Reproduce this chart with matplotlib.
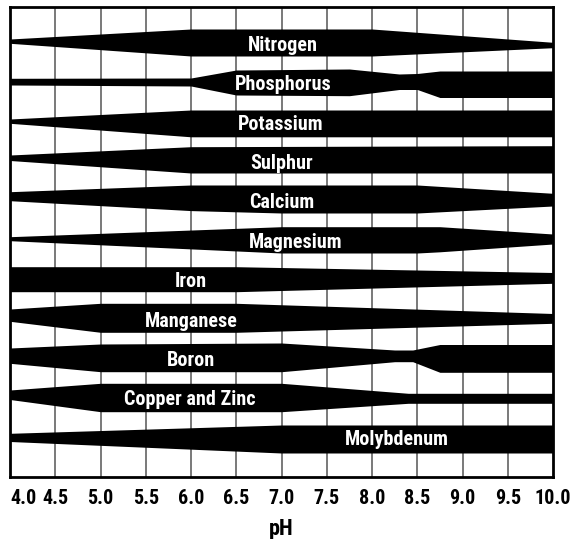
import matplotlib
matplotlib.use("Agg")
import matplotlib.pyplot as plt

plt.rcParams['font.family'] = ['Roboto Condensed', 'Liberation Sans', 'DejaVu Sans']

# ---- data: nutrient availability bands (edge offsets from row centre, y downward) ----
nutrients = ["Nitrogen", "Phosphorus", "Potassium", "Sulphur", "Calcium", "Magnesium",
             "Iron", "Manganese", "Boron", "Copper and Zinc", "Molybdenum"]

ph_nitrogen = [4.0, 6.0, 8.0, 10.0]
top_nitrogen = [-4.0, -14.0, -14.0, -0.7]
bot_nitrogen = [0.3, 13.0, 13.0, 4.7]

ph_phosphorus = [4.0, 6.0, 6.5, 7.75, 8.3, 8.5, 8.75, 10.0]
top_phosphorus = [-4.1, -4.4, -12.4, -13.4, -8.4, -8.9, -11.4, -11.4]
bot_phosphorus = [2.6, 3.6, 12.6, 13.3, 7.1, 7.1, 15.1, 15.1]

ph_potassium = [4.0, 6.0, 10.0]
top_potassium = [-2.8, -11.8, -11.8]
bot_potassium = [1.5, 15.0, 15.0]

ph_sulphur = [4.0, 6.0, 10.0]
top_sulphur = [-6.2, -14.5, -15.5]
bot_sulphur = [-0.7, 11.8, 11.8]

ph_calcium = [4.0, 6.0, 7.0, 8.5, 10.0]
top_calcium = [-8.9, -15.6, -15.6, -15.6, -7.3]
bot_calcium = [0.1, 10.0, 12.4, 12.4, 5.4]

ph_magnesium = [4.0, 7.0, 8.5, 8.75, 10.0]
top_magnesium = [-3.3, -13.3, -13.3, -13.3, -6.0]
bot_magnesium = [0.7, 13.0, 13.0, 11.8, 4.0]

ph_iron = [4.0, 6.5, 10.0]
top_iron = [-12.7, -12.7, -6.9]
bot_iron = [12.3, 12.3, 3.9]

ph_manganese = [4.0, 5.0, 6.5, 10.0]
top_manganese = [-9.8, -15.5, -15.5, -5.3]
bot_manganese = [2.5, 13.5, 13.5, 4.5]

ph_boron = [4.0, 5.0, 7.0, 8.25, 8.45, 8.75, 10.0]
top_boron = [-10.2, -14.2, -15.2, -8.2, -8.2, -13.7, -13.7]
bot_boron = [5.1, 13.5, 13.5, 3.5, 3.5, 14.1, 14.1]

ph_copper = [4.0, 5.0, 7.0, 8.4, 10.0]
top_copper = [-7.6, -14.3, -14.3, -4.3, -4.3]
bot_copper = [1.9, 14.1, 14.1, 5.7, 5.7]

ph_molybdenum = [4.0, 7.0, 10.0]
top_molybdenum = [-3.7, -12.0, -12.0]
bot_molybdenum = [4.5, 16.0, 16.0]

label_ph = [7.01, 7.02, 6.99, 7.0, 7.0, 7.16, 6.0, 6.0, 6.0, 5.99, 8.28]

ph_ticks = [4.0, 4.5, 5.0, 5.5, 6.0, 6.5, 7.0, 7.5, 8.0, 8.5, 9.0, 9.5, 10.0]
tick_labels = ["4.0", "4.5", "5.0", "5.5", "6.0", "6.5", "7.0", "7.5", "8.0", "8.5", "9.0", "9.5", "10.0"]

bands = [
    (ph_nitrogen, top_nitrogen, bot_nitrogen),
    (ph_phosphorus, top_phosphorus, bot_phosphorus),
    (ph_potassium, top_potassium, bot_potassium),
    (ph_sulphur, top_sulphur, bot_sulphur),
    (ph_calcium, top_calcium, bot_calcium),
    (ph_magnesium, top_magnesium, bot_magnesium),
    (ph_iron, top_iron, bot_iron),
    (ph_manganese, top_manganese, bot_manganese),
    (ph_boron, top_boron, bot_boron),
    (ph_copper, top_copper, bot_copper),
    (ph_molybdenum, top_molybdenum, bot_molybdenum),
]

# ---- figure ----
W, H = 577, 539
fig = plt.figure(figsize=(W / 100, H / 100), dpi=100)
ax = fig.add_axes([10 / W, (H - 477) / H, 543 / W, 470 / H])

ROW0, ROW = 43.0, 39.4
for i, (name, (ph, top, bot)) in enumerate(zip(nutrients, bands)):
    c = ROW0 + i * ROW
    ax.fill_between(ph, [c + t for t in top], [c + b for b in bot],
                    color="black", lw=0, zorder=3)
    ax.text(label_ph[i], c + 7.8, name, color="white", fontsize=14.5,
            fontweight="bold", ha="center", va="baseline", zorder=4)

for x in ph_ticks[1:-1]:
    ax.axvline(x, color="#555555", lw=1.1, zorder=1)

ax.set_xlim(4.0, 10.0)
ax.set_ylim(477, 7)
ax.set_yticks([])
ax.set_xticks(ph_ticks)
ax.set_xticklabels(tick_labels, fontsize=14.5, fontweight="bold")
ax.tick_params(axis="x", length=0, pad=9)
tl = ax.get_xticklabels()
tl[0].set_horizontalalignment("left")
for s in ax.spines.values():
    s.set_linewidth(2)
    s.set_color("black")
    s.set_zorder(5)
ax.set_xlabel("pH", fontsize=16, fontweight="bold", labelpad=7)

fig.savefig("out.png", dpi=100)
